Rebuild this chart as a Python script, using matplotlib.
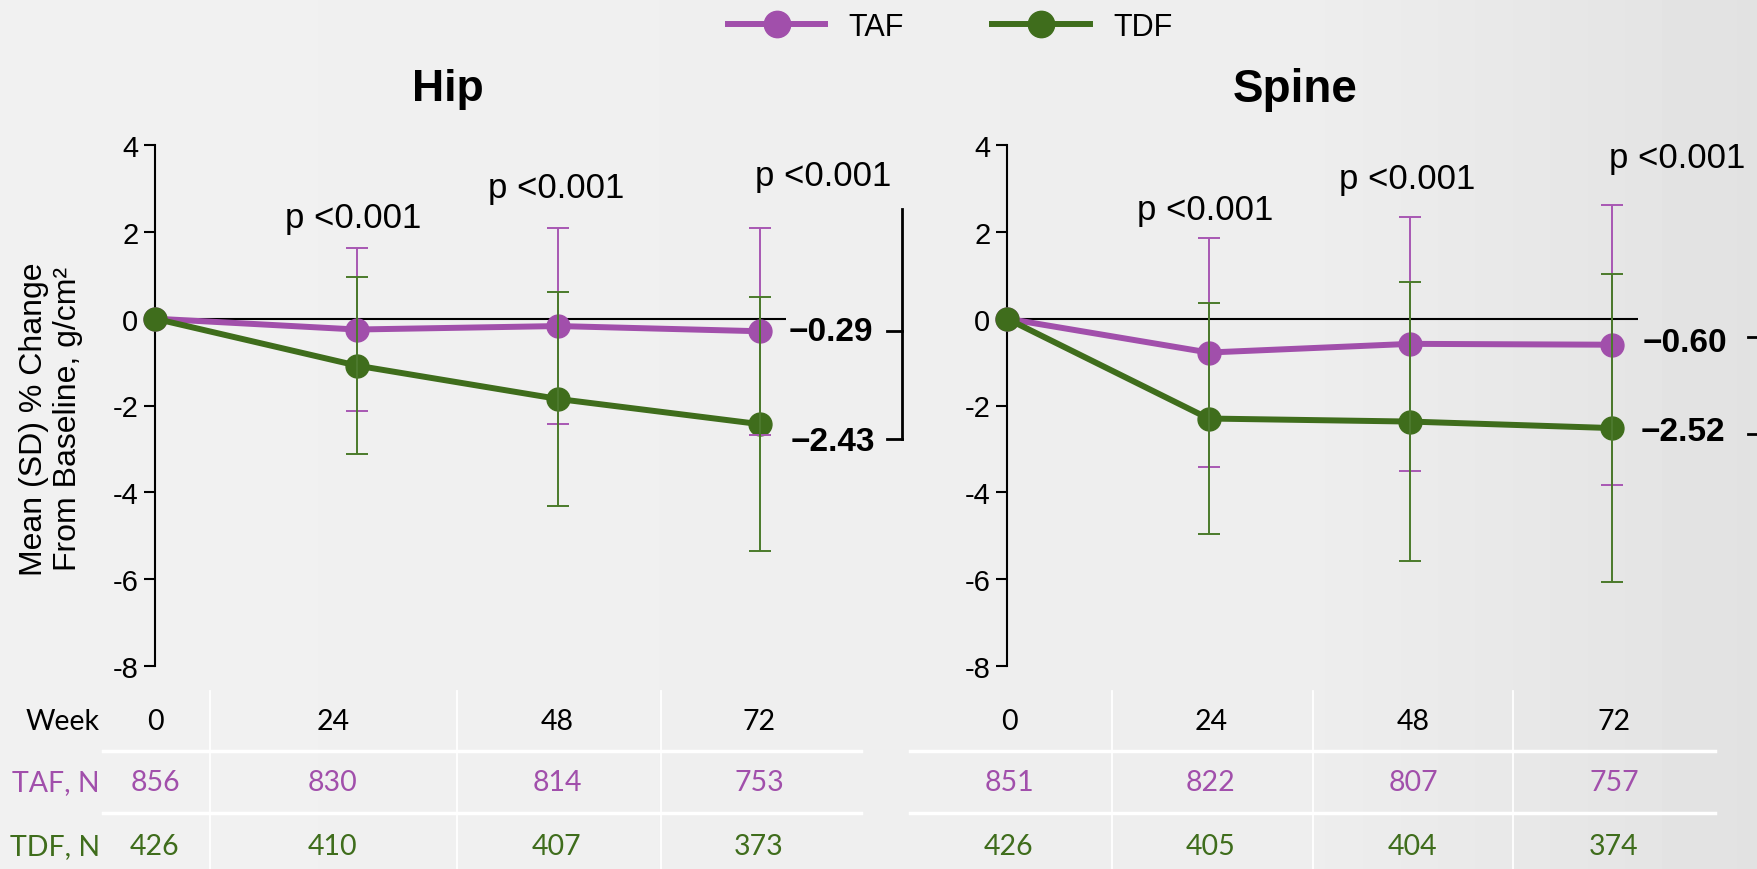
import numpy as np
import matplotlib.pyplot as plt

# ---------------- data ----------------
weeks = [0, 24, 48, 72]

hip_taf = [0, -0.25, -0.17, -0.29]
hip_taf_sd = [0, 1.87, 2.25, 2.38]
hip_tdf = [0, -1.08, -1.85, -2.43]
hip_tdf_sd = [0, 2.03, 2.46, 2.92]

spine_taf = [0, -0.78, -0.58, -0.60]
spine_taf_sd = [0, 2.63, 2.93, 3.22]
spine_tdf = [0, -2.30, -2.37, -2.52]
spine_tdf_sd = [0, 2.65, 3.21, 3.55]

hip_n_taf = [856, 830, 814, 753]
hip_n_tdf = [426, 410, 407, 373]
spine_n_taf = [851, 822, 807, 757]
spine_n_tdf = [426, 405, 404, 374]

row_labels = ['Week', 'TAF, N', 'TDF, N']
end_labels_hip = ['\u22120.29', '\u22122.43']
end_labels_spine = ['\u22120.60', '\u22122.52']
p_label = 'p <0.001'

# ---------------- style ----------------
PURPLE = '#A14FAB'
GREEN = '#3F6D1C'
PURPLE_E = '#A857B3'
GREEN_E = '#4A7A2A'
FONT = 'Liberation Sans'
TFONT = 'Lato'

plt.rcParams['font.family'] = [FONT, 'DejaVu Sans']
plt.rcParams['axes.unicode_minus'] = False

W, H = 1758, 870
fig = plt.figure(figsize=(W / 100, H / 100), dpi=100)

# background gradient, also used as a pixel-coordinate overlay
bg = fig.add_axes([0, 0, 1, 1], zorder=-10)
gx = np.concatenate([np.linspace(0.945, 0.93, 150), np.linspace(0.93, 0.885, 50)])
grad = np.tile(gx, (20, 1))
bg.imshow(grad, aspect='auto', extent=(0, W, H, 0), cmap='gray', vmin=0, vmax=1,
          interpolation='bicubic')
bg.set_xlim(0, W)
bg.set_ylim(H, 0)
bg.axis('off')


def panel(left, taf, taf_sd, tdf, tdf_sd, p_pos, end_pos, end_txt, brk):
    ax = fig.add_axes([left / W, 1 - 667 / H, 631 / W, 521 / H])
    ax.set_facecolor('none')
    ax.axhline(0, color='black', lw=1.5, zorder=1)
    l1, = ax.plot(weeks, taf, '-o', color=PURPLE, lw=4.3, ms=16.5,
                  zorder=3, clip_on=False)
    l2, = ax.plot(weeks, tdf, '-o', color=GREEN, lw=4.3, ms=16.5,
                  zorder=3.5, clip_on=False)
    ax.errorbar(weeks[1:], taf[1:], yerr=taf_sd[1:], fmt='none', ecolor=PURPLE_E,
                elinewidth=1.4, capsize=8, capthick=1.4, zorder=5)
    ax.errorbar(weeks[1:], tdf[1:], yerr=tdf_sd[1:], fmt='none', ecolor=GREEN_E,
                elinewidth=1.4, capsize=8, capthick=1.4, zorder=6)
    ax.set_xlim(0, 75.1)
    ax.set_ylim(-8, 4)
    ax.set_yticks(range(-8, 5, 2))
    ax.set_xticks([])
    for s in ['top', 'right', 'bottom']:
        ax.spines[s].set_visible(False)
    ax.spines['left'].set_linewidth(1.5)
    ax.tick_params(axis='y', direction='out', length=8, width=1.5,
                   labelsize=21, pad=4)
    for (x, y) in p_pos:
        ax.text(x, y, p_label, fontsize=25, ha='center', va='center',
                clip_on=False)
    for (x, y), t in zip(end_pos, end_txt):
        ax.text(x, y, t, fontsize=24, fontweight='bold', ha='left',
                va='center', clip_on=False)
    # bracket
    bx, top, bot, ticks, tx = brk
    ax.plot([bx, bx], [top, bot], color='black', lw=2, clip_on=False)
    for ty in ticks:
        ax.plot([tx, bx], [ty, ty], color='black', lw=2, clip_on=False)
    return ax, l1, l2


ax1, l1, l2 = panel(155, hip_taf, hip_taf_sd, hip_tdf, hip_tdf_sd,
                    [(23.6, 2.32), (47.7, 3.03), (79.5, 3.29)],
                    [(75.4, -0.29), (75.7, -2.82)], end_labels_hip,
                    (88.9, 2.53, -2.77, [-0.29, -2.77], 87.1))
ax2, _, _ = panel(1007, spine_taf, spine_taf_sd, spine_tdf, spine_tdf_sd,
                  [(23.6, 2.52), (47.6, 3.23), (79.8, 3.72)],
                  [(75.6, -0.54), (75.4, -2.61)], end_labels_spine,
                  (90.2, 2.5, -2.66, [-0.43, -2.66], 88.2))

# titles
bg.text(448, 90, 'Hip', fontsize=32, fontweight='bold', ha='center', va='center')
bg.text(1295, 90, 'Spine', fontsize=33, fontweight='bold', ha='center', va='center')

# y label
bg.text(51, 419, 'Mean (SD) % Change\nFrom Baseline, g/cm\u00b2', fontsize=23,
        rotation=90, ha='center', va='center', multialignment='center',
        linespacing=1.15)

# legend
fig.legend(handles=[l1, l2], labels=['TAF', 'TDF'], loc='center',
           bbox_to_anchor=(950 / W, 1 - 28 / H), ncol=2, frameon=False,
           fontsize=22, handlelength=3.2, handletextpad=0.75,
           columnspacing=2.9, markerscale=1.15)

# table below
row_y = [722, 783, 847]
row_colors = ['black', PURPLE, GREEN]
hip_cols = [155, 333, 557, 759]
spine_cols = [1009, 1211, 1413, 1614]
for y, t, c in zip(row_y, row_labels, row_colors):
    bg.text(100, y, t, fontsize=20.5, family=TFONT, ha='right', va='center', color=c)
for cols, n1, n2 in [(hip_cols, hip_n_taf, hip_n_tdf), (spine_cols, spine_n_taf, spine_n_tdf)]:
    for i in range(4):
        for y, v, c in zip(row_y, [weeks[i], n1[i], n2[i]], row_colors):
            bg.text(cols[i], y, str(v), fontsize=20.5, family=TFONT,
                    ha='center', va='center', color=c)

# table grid (white)
for x0, x1 in [(103, 861), (910, 1715)]:
    for y in [752, 814]:
        bg.plot([x0, x1], [y, y], color='white', lw=2.5)
for x in [210, 457, 661, 1112, 1313, 1513]:
    bg.plot([x, x], [692, H], color='white', lw=1.3)

fig.savefig('out.png', dpi=100)
